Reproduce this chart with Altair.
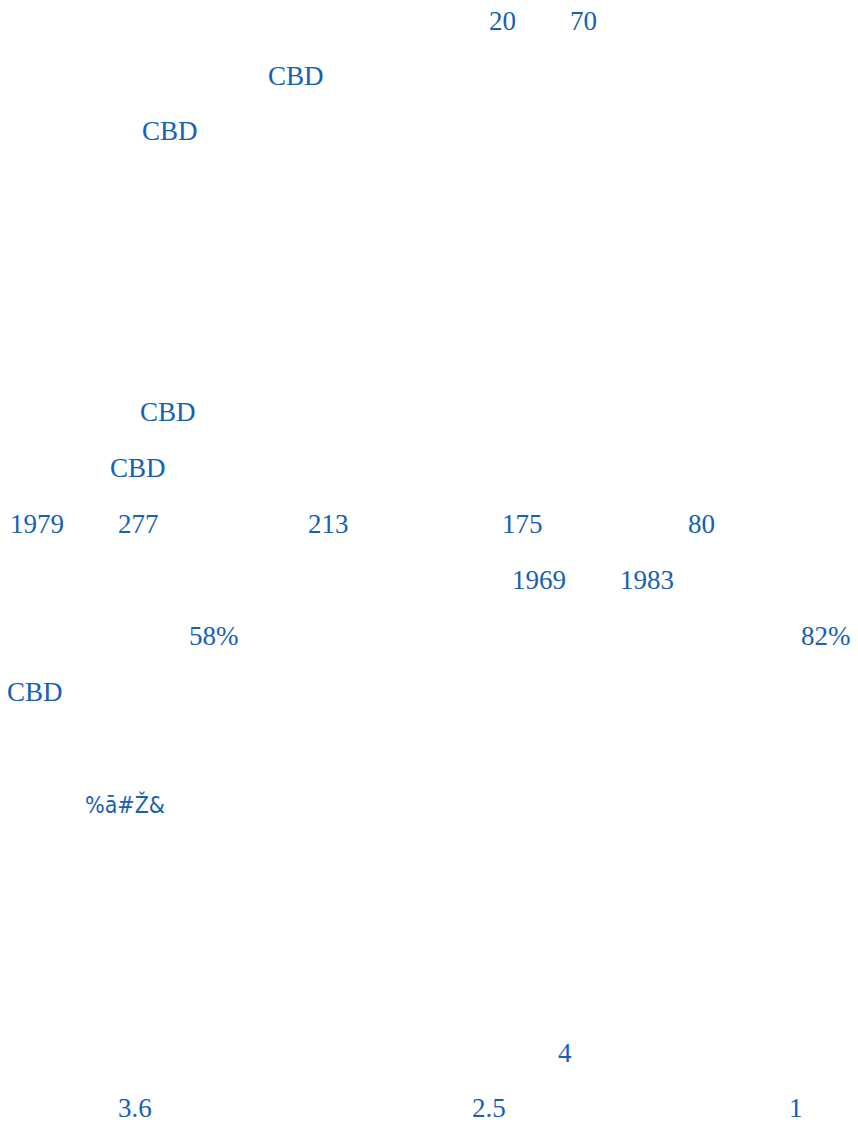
import altair as alt
import pandas as pd

# Text fragments as they appear on the page (reading order)
labels = ["20", "70",
          "CBD",
          "CBD",
          "CBD",
          "CBD",
          "1979", "277", "213", "175", "80",
          "1969", "1983",
          "58%", "82%",
          "CBD",
          "4",
          "3.6", "2.5", "1"]

# Page column (left edge, px) and baseline row (px) of each fragment
col_x = [489, 570,
         268,
         142,
         140,
         110,
         10, 118, 308, 502, 688,
         512, 620,
         189, 801,
         7,
         558,
         118, 472, 789]

row_y = [30, 30,
         85,
         140,
         421,
         477,
         533, 533, 533, 533, 533,
         589, 589,
         645, 645,
         701,
         1062,
         1117, 1117, 1117]

# The one garbled fragment, set in a narrower face
odd_label = ["%ā#Ž&"]
odd_x = [85]
odd_y = [813]

df = pd.DataFrame({"label": labels, "px": col_x, "py": row_y})
df_odd = pd.DataFrame({"label": odd_label, "px": odd_x, "py": odd_y})

xs = alt.Scale(domain=[8, 850], nice=False, zero=False)
ys = alt.Scale(domain=[8, 1118], nice=False, zero=False, reverse=True)

base = alt.Chart(df).mark_text(
    align="left",
    baseline="alphabetic",
    font="Liberation Serif",
    fontSize=27,
    color="#1560b8",
).encode(
    x=alt.X("px:Q", scale=xs, axis=None),
    y=alt.Y("py:Q", scale=ys, axis=None),
    text="label:N",
)

odd = alt.Chart(df_odd).mark_text(
    align="left",
    baseline="alphabetic",
    font="Liberation Sans Narrow, DejaVu Sans Condensed, sans-serif",
    fontSize=23,
    color="#1560b8",
).encode(
    x=alt.X("px:Q", scale=xs, axis=None),
    y=alt.Y("py:Q", scale=ys, axis=None),
    text="label:N",
)

chart = alt.layer(base, odd).properties(
    width=842,
    height=1110,
    padding=0,
    background="white",
    autosize=alt.AutoSizeParams(type="none"),
).configure_view(stroke=None, strokeWidth=0)

chart.save("out.html", embed_options={"renderer": "svg", "actions": False})
